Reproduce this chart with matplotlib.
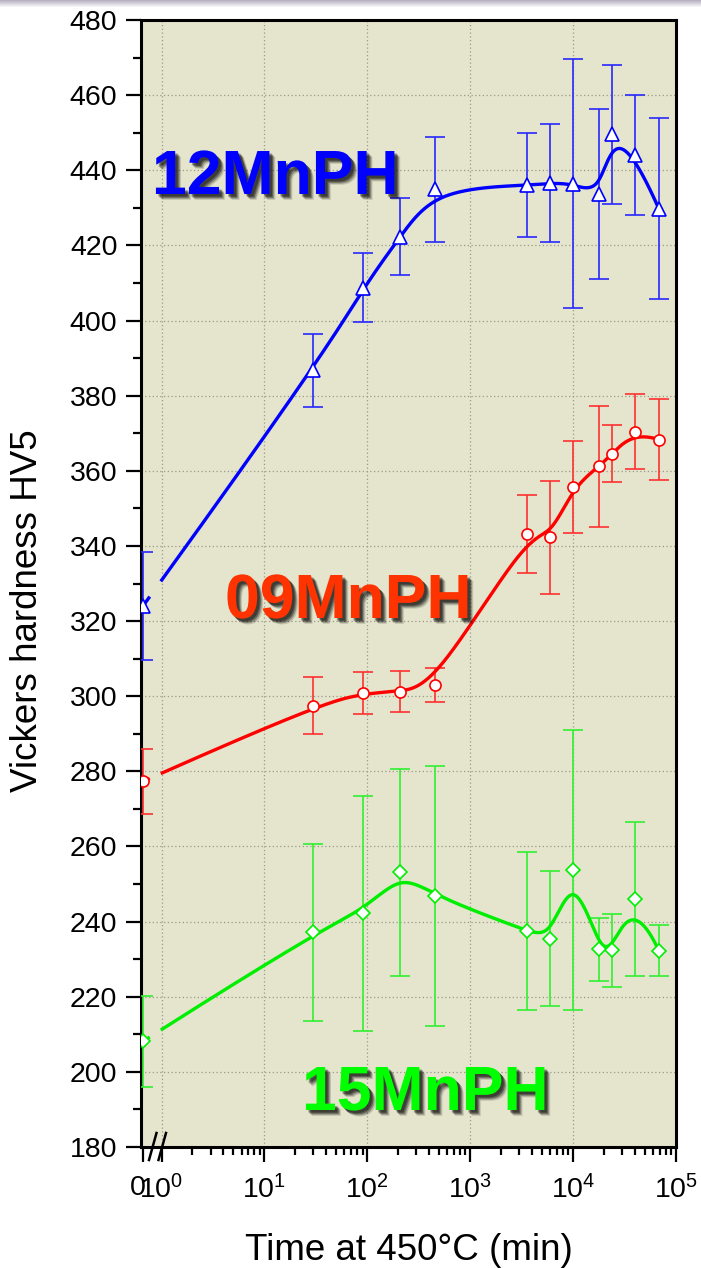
import numpy as np
import matplotlib
matplotlib.use("Agg")
import matplotlib.pyplot as plt
import matplotlib.patheffects as pe
import matplotlib.transforms as mtransforms
from matplotlib.ticker import FixedLocator, NullFormatter
from matplotlib.lines import Line2D

# ---------------- data ----------------
time_min = [0, 30, 90, 210, 450, 3600, 6000, 10000, 18000, 24000, 40000, 68000]

hv_12 = [324.0, 386.7, 408.7, 422.3, 434.9, 436.0, 436.6, 436.4, 433.6, 449.6, 444.0, 429.8]
err_12 = [14.4, 9.8, 9.2, 10.2, 14.0, 13.8, 15.6, 33.1, 22.6, 18.5, 16.0, 24.2]

hv_09 = [277.3, 297.5, 300.9, 301.2, 303.0, 343.2, 342.3, 355.7, 361.2, 364.6, 370.4, 368.3]
err_09 = [8.6, 7.5, 5.6, 5.5, 4.5, 10.3, 15.1, 12.3, 16.1, 7.7, 10.0, 10.7]

hv_15 = [208.1, 237.1, 242.2, 253.1, 246.8, 237.5, 235.5, 253.7, 232.6, 232.4, 245.9, 232.3]
err_15 = [12.0, 23.6, 31.2, 27.6, 34.5, 20.9, 17.9, 37.3, 8.3, 9.7, 20.5, 6.8]

x_ticklabels = ['0', r'$\mathregular{10^{0}}$', r'$\mathregular{10^{1}}$', r'$\mathregular{10^{2}}$',
                r'$\mathregular{10^{3}}$', r'$\mathregular{10^{4}}$', r'$\mathregular{10^{5}}$']

# position where t = 0 is drawn on the broken log axis
ZERO_POS = 0.66
X_LEFT = 0.632
BREAK_LO, BREAK_HI = 0.80, 0.975

plt.rcParams['font.family'] = ['Liberation Sans', 'DejaVu Sans']
plt.rcParams['mathtext.fontset'] = 'custom'
plt.rcParams['mathtext.rm'] = 'Liberation Sans'
plt.rcParams['mathtext.it'] = 'Liberation Sans:italic'
plt.rcParams['mathtext.bf'] = 'Liberation Sans:bold'


def bspline(px, py, n_eval=2000, k=3):
    """Clamped uniform cubic B-spline using the points as control polygon."""
    P = np.column_stack([px, py])
    n = len(P)
    m = n - k
    knots = np.concatenate([np.zeros(k), np.arange(m + 1), np.full(k, m)]).astype(float)
    t = np.linspace(0, m, n_eval)
    nb = len(knots) - 1
    N = np.zeros((len(t), nb))
    for i in range(nb):
        N[:, i] = (knots[i] <= t) & (t < knots[i + 1])
    last = max(i for i in range(nb) if knots[i] < knots[i + 1])
    N[t == m, last] = 1.0
    for d in range(1, k + 1):
        Nn = np.zeros((len(t), nb - d))
        for i in range(nb - d):
            a = knots[i + d] - knots[i]
            b = knots[i + d + 1] - knots[i + 1]
            left = (t - knots[i]) / a * N[:, i] if a > 0 else 0
            right = (knots[i + d + 1] - t) / b * N[:, i + 1] if b > 0 else 0
            Nn[:, i] = left + right
        N = Nn
    C = N @ P
    return C[:, 0], C[:, 1]


fig = plt.figure(figsize=(7.01, 12.68), dpi=100)
ax = fig.add_axes([141 / 701, 1 - 1147 / 1268, (676 - 141) / 701, (1147 - 20) / 1268])
ax.set_facecolor('#E5E4CC')

xplot = np.array([ZERO_POS if t == 0 else t for t in time_min], dtype=float)

series = [
    (hv_12, err_12, '#0000FF', '#2828FF', '^', 10.5),
    (hv_09, err_09, '#FF0000', '#FF3030', 'o', 8.0),
    (hv_15, err_15, '#00EE00', '#30F030', 'D', 7.5),
]

for hv, err, lc, ec, mk, ms in series:
    ax.errorbar(xplot, hv, yerr=err, fmt='none', ecolor=ec, elinewidth=1.2,
                capsize=7, capthick=1.2, zorder=3)
    lx, ly = bspline(np.log10(xplot), np.array(hv, dtype=float))
    cx = 10 ** lx
    cy = ly.copy()
    cy[(cx > BREAK_LO) & (cx < BREAK_HI)] = np.nan
    ax.plot(cx, cy, color=lc, lw=2.4, zorder=4, solid_capstyle='butt')
    ax.plot(xplot, hv, linestyle='none', marker=mk, ms=ms, mfc='white',
            mec=lc, mew=1.2, zorder=5)

ax.set_xscale('log')
ax.set_xlim(X_LEFT, 1e5)
ax.set_ylim(180, 480)

major_x = [ZERO_POS, 1, 10, 100, 1000, 10000, 100000]
ax.xaxis.set_major_locator(FixedLocator(major_x))
ax.set_xticklabels(x_ticklabels)
minor_x = [s * 10 ** e for e in range(0, 5) for s in range(2, 10)]
ax.xaxis.set_minor_locator(FixedLocator(minor_x))
ax.xaxis.set_minor_formatter(NullFormatter())

ax.set_yticks(np.arange(180, 481, 20))
ax.set_yticks(np.arange(190, 480, 20), minor=True)

ax.tick_params(axis='both', which='major', direction='out', length=11, width=1.6,
               labelsize=20.5, colors='black')
ax.tick_params(axis='y', which='major', pad=6)
ax.tick_params(axis='x', which='major', pad=9)
ax.tick_params(axis='both', which='minor', direction='out', length=5.5, width=1.6)
ax.tick_params(top=False, right=False, which='both')

# nudge the "0" label slightly left, as in the original
zero_lbl = ax.get_xticklabels()[0]
zero_lbl.set_transform(zero_lbl.get_transform() +
                       mtransforms.ScaledTranslation(-4 / 72, 0, fig.dpi_scale_trans))

for s in ax.spines.values():
    s.set_linewidth(2.2)
    s.set_color('black')

ax.grid(True, which='major', linestyle=(0, (1, 2)), color='#9a9a8a', linewidth=0.9)
ax.set_axisbelow(True)
# no grid line at the zero position
for gl, loc in zip(ax.get_xgridlines(), major_x):
    if loc == ZERO_POS:
        gl.set_visible(False)

ax.set_xlabel('Time at 450°C (min)', fontsize=26.5)
ax.xaxis.set_label_coords(0.5, -0.0765)
ax.set_ylabel('Vickers hardness HV5', fontsize=26.5)
ax.yaxis.set_label_coords(-0.18, 0.476)

# axis break marks
for x0 in (149, 158.5):
    fig.add_artist(Line2D([x0 / 701, (x0 + 7.5) / 701],
                          [1 - 1160 / 1268, 1 - 1133 / 1268],
                          color='black', lw=1.8, transform=fig.transFigure))

# series labels with soft shadow
shadow = [pe.SimplePatchShadow(offset=(o, -o), shadow_rgbFace='black', alpha=a)
          for o, a in ((4.2, 0.15), (3.4, 0.25), (2.6, 0.35), (1.8, 0.35))] + [pe.Normal()]
labels = [('12MnPH', '#0000FF', 152, 194),
          ('09MnPH', '#FF3300', 225, 618),
          ('15MnPH', '#00FF00', 302, 1110)]
for txt, col, px, py in labels:
    fig.text(px / 701, 1 - py / 1268, txt, color=col, fontsize=45, fontweight='bold',
             ha='left', va='baseline', path_effects=shadow, zorder=10)

# top screenshot band
band = fig.add_axes([0, 1 - 8 / 1268, 1, 8 / 1268])
grad = np.linspace(0, 1, 8)[:, None, None]
top = np.array([0.72, 0.70, 0.76])
img = top * (1 - grad) + np.array([1.0, 1.0, 1.0]) * grad
band.imshow(np.repeat(img, 10, axis=1), aspect='auto', interpolation='bilinear')
band.axis('off')

fig.savefig('out.png', dpi=100)
